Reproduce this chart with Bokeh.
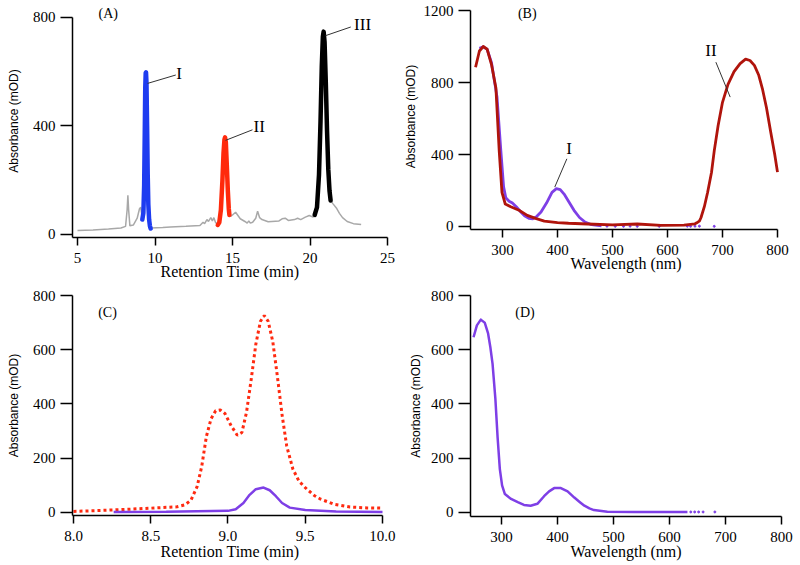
from bokeh.plotting import figure
from bokeh.layouts import column, row
from bokeh.models import Range1d, FixedTicker, Label, NumeralTickFormatter
from bokeh.core.properties import value
from bokeh.embed import file_html
from bokeh.resources import INLINE

NAN = float("nan")

# ---------------- Panel A: chromatogram ----------------
a_gray_x = [5.0, 6.0, 7.0, 7.8, 8.1, 8.2, 8.25, 8.3, 8.38, 8.6, 8.85, 9.0, 9.08, 9.15, 9.2, NAN,
            9.72, 10.5, 11.0, 12.0, 12.9, 13.1, 13.2, 13.35, 13.45, 13.6, 13.7, 13.8, 13.9, 14.0, 14.05, NAN,
            14.8, 14.9, 15.0, 15.2, 15.35, 15.5, 15.8, 15.95, 16.05, 16.15, 16.3, 16.5, 16.62, 16.75, 16.9,
            17.3, 18.0, 18.2, 18.4, 18.6, 19.0, 19.2, 19.4, 19.7, 19.95, 20.2, 20.3, NAN,
            21.33, 21.5, 21.7, 21.9, 22.1, 22.4, 22.8, 23.3]
a_gray_y = [15, 17, 20, 24, 30, 90, 145, 90, 32, 35, 60, 95, 100, 70, 55, NAN,
            24, 26, 28, 30, 33, 45, 40, 55, 48, 62, 50, 62, 45, 38, 35, NAN,
            70, 68, 72, 82, 70, 58, 48, 42, 50, 42, 45, 60, 86, 62, 55,
            47, 50, 58, 60, 52, 55, 60, 55, 64, 70, 64, 72, NAN,
            125, 112, 98, 78, 62, 48, 40, 37]
a_peak1_x = [9.18, 9.25, 9.30, 9.34, 9.37, 9.40, 9.42, 9.45, 9.49, 9.53, 9.57, 9.62, 9.67, 9.72]
a_peak1_y = [55, 80, 180, 380, 540, 595, 598, 560, 400, 220, 110, 55, 32, 22]
a_peak2_x = [14.05, 14.15, 14.25, 14.35, 14.42, 14.48, 14.52, 14.57, 14.63, 14.7, 14.76, 14.8]
a_peak2_y = [35, 45, 90, 200, 300, 350, 358, 340, 260, 160, 95, 72]
a_peak3_x = [20.3, 20.45, 20.58, 20.68, 20.76, 20.83, 20.88, 20.94, 21.02, 21.1, 21.18, 21.26, 21.33]
a_peak3_y = [72, 100, 220, 420, 620, 730, 748, 710, 560, 380, 240, 160, 125]
a_lab_x = [11.56, 16.72, 23.39]
a_lab_y = [594, 399, 774]
a_lab_t = ["I", "II", "III"]
a_lead_x0 = [9.52, 14.55, 21.0]
a_lead_y0 = [557, 347, 733]
a_lead_x1 = [11.34, 16.29, 22.63]
a_lead_y1 = [588, 386, 765]

# ---------------- Panel B: spectra ----------------
b_red_x = [251, 258, 265, 272, 280, 288, 294, 299, 305, 315, 330, 345, 360, 376, 400, 420, 455, 500,
           545, 588, 630, 650, 655, 658, 661, 667, 673, 680, 685, 692, 700, 710, 721, 732, 742, 750,
           758, 766, 773, 780, 788, 795, 800]
b_red_y = [885, 975, 1000, 985, 900, 770, 420, 190, 125, 110, 90, 62, 45, 30, 22, 18, 14, 9,
           14, 6, 8, 15, 24, 30, 50, 110, 190, 300, 420, 560, 690, 790, 860, 905, 930, 922,
           895, 840, 760, 660, 520, 400, 302]
b_pur_x = [258, 265, 272, 280, 290, 297, 302, 306, 312, 318, 325, 332, 340, 348, 355, 362, 370, 380,
           390, 398, 405, 412, 420, 430, 440, 450, 462, 480]
b_pur_y = [990, 998, 985, 910, 720, 420, 220, 160, 140, 130, 110, 85, 60, 45, 43, 55, 80, 130,
           190, 210, 205, 180, 140, 90, 50, 25, 10, 3]
b_dot_x = [490, 505, 520, 532, 545, 585, 636, 642, 650, 658, 685]
b_dot_y = [2, 1, 1, 2, 1, 1, 2, 1, 2, 2, 1]
b_lab_x = [421, 679]
b_lab_y = [431, 978]
b_lab_t = ["I", "II"]
b_lead_x0 = [395, 688]
b_lead_y0 = [219, 913]
b_lead_x1 = [417, 714]
b_lead_y1 = [376, 719]

# ---------------- Panel C: zoomed chromatogram ----------------
c_red_x = [8.0, 8.15, 8.28, 8.5, 8.67, 8.72, 8.76, 8.8, 8.83, 8.86, 8.89, 8.92, 8.95, 8.98, 9.02,
           9.06, 9.09, 9.12, 9.15, 9.18, 9.21, 9.235, 9.26, 9.29, 9.32, 9.35, 9.38, 9.42, 9.46,
           9.51, 9.56, 9.6, 9.69, 9.79, 9.9, 10.0]
c_red_y = [4, 7, 10, 16, 21, 28, 45, 95, 170, 280, 345, 375, 378, 365, 320,
           285, 295, 370, 490, 620, 705, 726, 705, 630, 500, 360, 245, 160, 115,
           86, 62, 49, 30, 20, 17, 16]
c_pur_x = [8.26, 8.6, 9.0, 9.05, 9.1, 9.14, 9.18, 9.23, 9.27, 9.31, 9.35, 9.4, 9.5, 9.7, 10.0]
c_pur_y = [2, 3, 6, 12, 35, 65, 86, 92, 82, 60, 35, 18, 9, 4, 2]

# ---------------- Panel D: spectrum ----------------
d_pur_x = [250, 256, 263, 270, 276, 280, 284, 289, 293, 297, 301, 306, 317, 329, 340, 352, 364,
           376, 385, 394, 406, 418, 430, 440, 448, 457, 465, 489, 537, 632]
d_pur_y = [646, 690, 711, 700, 660, 610, 548, 420, 277, 160, 100, 68, 50, 38, 28, 25, 32,
           60, 78, 90, 90, 78, 55, 38, 25, 15, 9, 3, 2, 2]
d_dot_x = [638, 645, 652, 660, 681]
d_dot_y = [2, 2, 2, 2, 2]

SERIF = "Liberation Serif"
SANS = "Liberation Sans"


def make_fig(xr, yr, xticks, yticks, borders, xlab, xstand, ystand, xb=None, yb=None, xfmt=None):
    left, right, top, bottom = borders
    p = figure(width=400, height=282, output_backend="svg", toolbar_location=None, title=None,
               x_range=Range1d(*xr), y_range=Range1d(*yr),
               min_border_left=left, min_border_right=right,
               min_border_top=top, min_border_bottom=bottom)
    p.grid.visible = False
    p.outline_line_color = None
    for ax in (p.xaxis[0], p.yaxis[0]):
        ax.axis_line_color = "black"
        ax.axis_line_width = 1.5
        ax.major_tick_line_color = "black"
        ax.major_tick_line_width = 1.5
        ax.major_tick_in = 0
        ax.minor_tick_in = 0
        ax.minor_tick_out = 0
        ax.major_label_text_font = SERIF
        ax.major_label_text_font_size = "15px"
        ax.major_label_text_color = "black"
        ax.axis_label_text_font_style = "normal"
        ax.axis_label_text_color = "black"
    p.xaxis.ticker = FixedTicker(ticks=xticks)
    p.yaxis.ticker = FixedTicker(ticks=yticks)
    p.xaxis.major_tick_out = 8
    p.yaxis.major_tick_out = 12
    p.xaxis.major_label_standoff = 7
    p.yaxis.major_label_standoff = 5
    p.xaxis.axis_label = xlab
    p.xaxis.axis_label_text_font = SERIF
    p.xaxis.axis_label_text_font_size = "16px"
    p.xaxis.axis_label_standoff = xstand
    p.yaxis.axis_label = "Absorbance (mOD)"
    p.yaxis.axis_label_text_font = SANS
    p.yaxis.axis_label_text_font_size = "12px"
    p.yaxis.axis_label_standoff = ystand
    if xb:
        p.xaxis.bounds = xb
    if yb:
        p.yaxis.bounds = yb
    if xfmt:
        p.xaxis.formatter = NumeralTickFormatter(format=xfmt)
    return p


def panel_label(p, x, y, t):
    p.add_layout(Label(x=x, y=y, text=t, text_align="center", text_baseline="middle",
                       text_font=SERIF, text_font_size="14px", text_color="black"))


# Panel A
pA = make_fig((4.677, 25), (-11.06, 847.9), [5, 10, 15, 20, 25], [0, 400, 800], (72, 13, 4, 45),
              "Retention Time (min)", -3, 9, yb=(-11.06, 800))
pA.line(a_gray_x, a_gray_y, line_color="#A8A8A8", line_width=1.5)
pA.line(a_peak1_x, a_peak1_y, line_color="#1E3CF0", line_width=4.5, line_join="round", line_cap="round")
pA.line(a_peak2_x, a_peak2_y, line_color="#FF2A0C", line_width=4.5, line_join="round", line_cap="round")
pA.line(a_peak3_x, a_peak3_y, line_color="black", line_width=4.5, line_join="round", line_cap="round")
pA.segment(a_lead_x0, a_lead_y0, a_lead_x1, a_lead_y1, line_color="#333333", line_width=1)
pA.text(a_lab_x, a_lab_y, text=a_lab_t, text_align="center", text_baseline="middle",
        text_font=value(SERIF), text_font_size="17px", text_color="black")
panel_label(pA, 6.98, 814.7, "(A)")

# Panel B
pB = make_fig((241.8, 807.3), (-16.67, 1238.9), [300, 400, 500, 600, 700, 800], [0, 400, 800, 1200],
              (70, 19, 3, 53), "Wavelength (nm)", -3, 3, xb=(241.8, 800), yb=(-16.67, 1200))
pB.line(b_pur_x, b_pur_y, line_color="#7E3FE6", line_width=2.8, line_join="round")
pB.scatter(b_dot_x, b_dot_y, size=2, color="#7E3FE6")
pB.line(b_red_x, b_red_y, line_color="#B0140C", line_width=2.8, line_join="round")
pB.segment(b_lead_x0, b_lead_y0, b_lead_x1, b_lead_y1, line_color="#333333", line_width=1)
pB.text(b_lab_x, b_lab_y, text=b_lab_t, text_align="center", text_baseline="middle",
        text_font=value(SERIF), text_font_size="17px", text_color="black")
panel_label(pB, 345, 1181, "(B)")

# Panel C
pC = make_fig((7.9935, 10.0324), (-11.06, 800), [8.0, 8.5, 9.0, 9.5, 10.0], [0, 200, 400, 600, 800],
              (72, 13, 13, 49), "Retention Time (min)", -1, 9, xb=(7.9935, 10.0), xfmt="0.0")
pC.line(c_red_x, c_red_y, line_color="#FF2A10", line_width=3, line_dash="3 3")
pC.line(c_pur_x, c_pur_y, line_color="#7E3FE6", line_width=2.5)
panel_label(pC, 8.22, 738, "(C)")

# Panel D
pD = make_fig((244.6, 800), (-14.75, 800), [300, 400, 500, 600, 700, 800], [0, 200, 400, 600, 800],
              (70, 19, 13, 48), "Wavelength (nm)", -2, 5)
pD.line(d_pur_x, d_pur_y, line_color="#7E3FE6", line_width=2.5, line_join="round")
pD.scatter(d_dot_x, d_dot_y, size=2, color="#7E3FE6")
panel_label(pD, 342, 738, "(D)")

layout = row(column(pA, pC), column(pB, pD))
open("out.html", "w").write(file_html(layout, INLINE))
